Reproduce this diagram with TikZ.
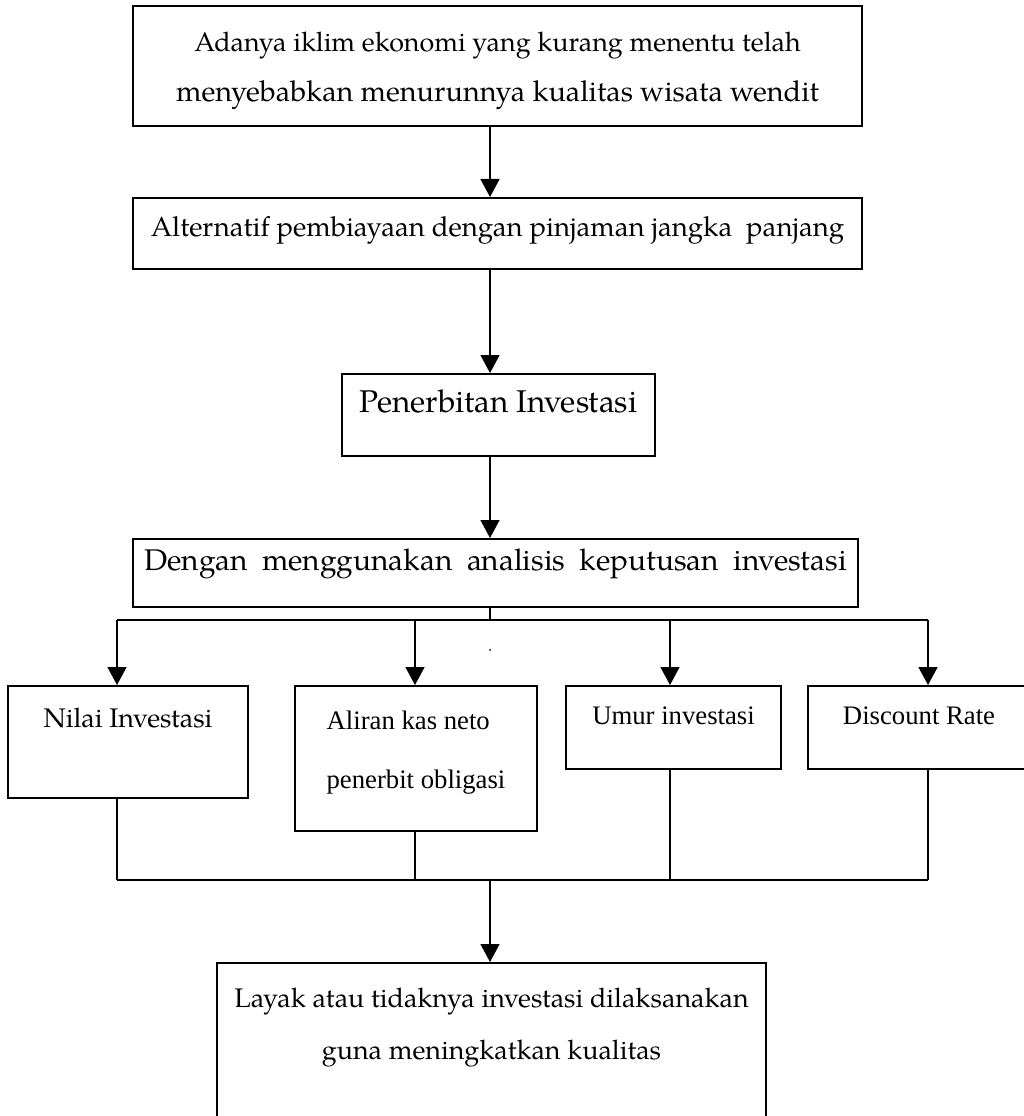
\documentclass[tikz,border=0pt]{standalone}
\usepackage{fontspec}
\setmainfont{TeX Gyre Pagella}
\newfontfamily\timesfont{Liberation Serif}
\usetikzlibrary{arrows.meta}

\begin{document}
\begin{tikzpicture}[
  box/.style={draw, line width=1.1pt, anchor=north, inner xsep=0pt, inner ysep=0pt, align=center},
  flow/.style={-{Triangle[width=0.38cm,length=0.36cm]}, line width=0.9pt},
  link/.style={line width=0.9pt},
  pala/.style={font=\fontsize{15.3pt}{27.3pt}\selectfont},
  tms/.style={font=\timesfont\fontsize{15.2pt}{33.6pt}\selectfont}
]
\useasboundingbox (0,0) rectangle (20.46,-22.32);

% Top chain
\node[box, pala, minimum width=14.58cm, minimum height=2.40cm, text height=1.92cm, text depth=0.48cm]
  (iklim) at (9.95,-0.10) {Adanya iklim ekonomi yang kurang menentu telah\\[1.7pt]
  {\fontsize{16.4pt}{27.3pt}\selectfont menyebabkan menurunnya kualitas wisata wendit}};
\node[box, font=\fontsize{15.7pt}{20pt}\selectfont, minimum width=14.58cm, minimum height=1.42cm, text height=0.78cm, text depth=0.64cm]
  (alt) at (9.95,-3.94) {Alternatif pembiayaan dengan pinjaman jangka \ panjang};
\node[box, font=\fontsize{17.9pt}{20pt}\selectfont, minimum width=6.26cm, minimum height=1.64cm, text height=0.78cm, text depth=0.86cm]
  (terbit) at (9.97,-7.46) {Penerbitan Investasi};
\node[box, font=\fontsize{17pt}{20pt}\selectfont, minimum width=14.50cm, minimum height=1.36cm, text height=0.64cm, text depth=0.72cm]
  (putusan) at (9.91,-10.76) {\spaceskip=8.2pt\relax Dengan menggunakan analisis keputusan investasi};

\coordinate (spine) at (9.80,0);
\draw[flow] (iklim.south -| spine) -- (alt.north -| spine);
\draw[flow] (alt.south -| spine) -- (terbit.north -| spine);
\draw[flow] (terbit.south -| spine) -- (putusan.north -| spine);

% Four factors
\node[box, pala, minimum width=4.80cm, minimum height=2.24cm, text height=0.84cm, text depth=1.40cm]
  (nilai) at (2.56,-13.70) {Nilai Investasi};
\node[box, tms, align=left, minimum width=4.84cm, minimum height=2.90cm, text height=2.06cm, text depth=0.84cm]
  (aliran) at (8.32,-13.70) {Aliran kas neto\\penerbit obligasi};
\node[box, tms, minimum width=4.30cm, minimum height=1.66cm, text height=0.78cm, text depth=0.88cm]
  (umur) at (13.47,-13.70) {Umur investasi};
\node[box, tms, minimum width=4.44cm, minimum height=1.66cm, text height=0.78cm, text depth=0.88cm]
  (disc) at (18.38,-13.70) {Discount Rate};

\coordinate (split) at (9.80,-12.40);
\coordinate (b1) at (2.34,-12.40);
\coordinate (b2) at (8.30,-12.40);
\coordinate (b3) at (13.40,-12.40);
\coordinate (b4) at (18.56,-12.40);
\draw[link] (putusan.south -| spine) -- (split);
\draw[link] (b1) -- (b4);
\foreach \b/\n in {b1/nilai, b2/aliran, b3/umur, b4/disc}
  \draw[flow] (\b) -- (\b |- \n.north);
\fill (9.80,-13.00) circle (0.02);

% Result
\node[box, font=\fontsize{15.3pt}{29.6pt}\selectfont, minimum width=10.98cm, minimum height=3.36cm, text height=1.94cm, text depth=1.42cm]
  (layak) at (9.83,-19.24) {Layak atau tidaknya investasi dilaksanakan\\guna meningkatkan kualitas};

\coordinate (join) at (9.80,-17.60);
\foreach \b/\n in {b1/nilai, b2/aliran, b3/umur, b4/disc}
  \draw[link] (\b |- \n.south) -- (\b |- join);
\draw[link] (b1 |- join) -- (b4 |- join);
\draw[flow] (join) -- (layak.north -| join);
\end{tikzpicture}
\end{document}
